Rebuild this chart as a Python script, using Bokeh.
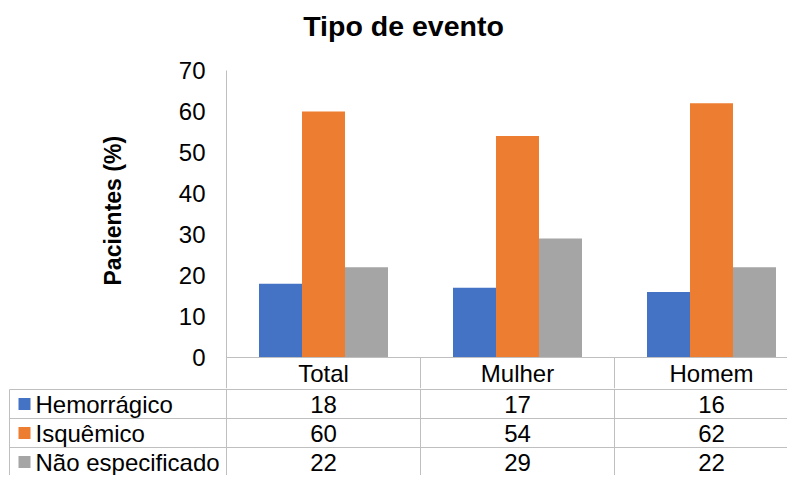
import numpy as np
from bokeh.plotting import figure
from bokeh.layouts import column
from bokeh.models import Range1d, FixedTicker, Span, Title
from bokeh.core.properties import value
from bokeh.embed import file_html
from bokeh.resources import INLINE

# ---- data ----
categories = ["Total", "Mulher", "Homem"]
series_names = ["Hemorrágico", "Isquêmico", "Não especificado"]
hemorragico = [18, 17, 16]
isquemico = [60, 54, 62]
nao_especificado = [22, 29, 22]
series_colors = ["#4472C4", "#ED7D31", "#A5A5A5"]
y_ticks = [0, 10, 20, 30, 40, 50, 60, 70]
title_text = "Tipo de evento"
y_label = "Pacientes (%)"

series_values = [hemorragico, isquemico, nao_especificado]

# ---- geometry (pixels) ----
W = 787
H_TOTAL = 475
AXIS_X = 226          # x of the value axis
TOP_Y = 70           # y of the 70 tick
ZERO_Y = 357         # y of the zero line
HEADER_BOTTOM_Y = 389
CHART_H = 388        # height of the chart figure (title, bars, header row)
CAT_PX = 194.0
Y_TOP = 70
PX_PER_UNIT = (ZERO_Y - TOP_Y) / float(Y_TOP)
FONT = "Liberation Sans"
GRID = "#bfbfbf"
TXT = "24px"

x_lo = -AXIS_X / CAT_PX
x_hi = (W - AXIS_X) / CAT_PX


def ya(py):
    """page y -> value units of the chart figure"""
    return (ZERO_Y - py) / PX_PER_UNIT


# ================= chart =================
y_start = ya(CHART_H)
y_end = ya(0)
pa = figure(width=W, height=CHART_H, output_backend="svg", toolbar_location=None,
            x_range=Range1d(0, x_hi), y_range=Range1d(y_start, y_end),
            x_axis_location=None, y_axis_location="left",
            min_border_left=AXIS_X, min_border_top=0,
            min_border_right=0, min_border_bottom=0, frame_align=False)
pa.outline_line_color = None
pa.grid.grid_line_color = None

ax = pa.yaxis[0]
ax.ticker = FixedTicker(ticks=y_ticks)
ax.bounds = (y_start, Y_TOP)
ax.major_tick_line_color = None
ax.minor_tick_line_color = None
ax.major_tick_out = 0
ax.major_tick_in = 0
ax.axis_line_color = GRID
ax.major_label_text_font = FONT
ax.major_label_text_font_size = TXT
ax.major_label_text_color = "black"
ax.major_label_standoff = 21

# value-axis title (placed beside the axis, starting at the bottom of the plot area)
ylab = Title(text=y_label, align="left", vertical_align="bottom",
             offset=CHART_H - 285, standoff=100,
             text_font=FONT, text_font_size="23px", text_font_style="bold",
             text_color="black")
pa.add_layout(ylab, "left")

# chart title
pa.text(x=[(403 - AXIS_X) / CAT_PX], y=[ya(25)], text=[title_text],
        text_align="center", text_baseline="middle", text_font=value(FONT),
        text_font_size="28.5px", text_font_style="bold", text_color="black")

cat_x = np.arange(len(categories)) + 0.5
bar_w = 43 / CAT_PX
offsets = (np.arange(len(series_names)) - 1) * bar_w
for vals, col, off in zip(series_values, series_colors, offsets):
    pa.vbar(x=cat_x + off, top=vals, bottom=0, width=bar_w,
            fill_color=col, line_color=None)

# zero line and header row of the data table
pa.add_layout(Span(location=0, dimension="width", line_color=GRID, line_width=1))
seps = np.arange(1, len(categories))
pa.segment(x0=seps, y0=[0] * len(seps), x1=seps, y1=[y_start] * len(seps),
           line_color=GRID, line_width=1)
pa.text(x=cat_x, y=[ya((ZERO_Y + HEADER_BOTTOM_Y) / 2.0)] * len(categories), text=categories,
        text_align="center", text_baseline="middle", text_font=value(FONT),
        text_font_size=TXT, text_color="black")

# ================= data table rows =================
HB = H_TOTAL - CHART_H
ROW_H = 29
b_top = -CHART_H
b_bot = -H_TOTAL
pb = figure(width=W, height=HB, output_backend="svg", toolbar_location=None,
            x_range=Range1d(x_lo, x_hi), y_range=Range1d(b_bot, b_top),
            x_axis_location=None, y_axis_location=None,
            min_border_left=0, min_border_top=0, min_border_right=0, min_border_bottom=0,
            frame_align=False)
pb.outline_line_color = None
pb.grid.grid_line_color = None

row_tops = [-(HEADER_BOTTOM_Y + ROW_H * i) for i in range(len(series_names))]
row_centers = [t - ROW_H / 2.0 for t in row_tops]
table_left = (9 - AXIS_X) / CAT_PX

seps_all = np.arange(0, len(categories))
pb.segment(x0=seps_all, y0=[b_top] * len(seps_all), x1=seps_all, y1=[b_bot] * len(seps_all),
           line_color=GRID, line_width=1)
pb.segment(x0=[table_left], y0=[row_tops[0]], x1=[table_left], y1=[b_bot],
           line_color=GRID, line_width=1)
pb.segment(x0=[table_left] * len(row_tops), y0=row_tops,
           x1=[x_hi] * len(row_tops), y1=row_tops, line_color=GRID, line_width=1)

for vals, yc in zip(series_values, row_centers):
    pb.text(x=cat_x, y=[yc] * len(vals), text=[str(v) for v in vals],
            text_align="center", text_baseline="middle", text_font=value(FONT),
            text_font_size=TXT, text_color="black")

key_x = (24 - AXIS_X) / CAT_PX
name_x = (35 - AXIS_X) / CAT_PX
pb.scatter(x=[key_x] * len(series_names), y=row_centers, marker="square", size=12,
           fill_color=series_colors, line_color=None)
pb.text(x=[name_x] * len(series_names), y=row_centers, text=series_names,
        text_align="left", text_baseline="middle", text_font=value(FONT),
        text_font_size=TXT, text_color="black")

layout = column(pa, pb, spacing=0)
open("out.html", "w").write(file_html(layout, INLINE))
